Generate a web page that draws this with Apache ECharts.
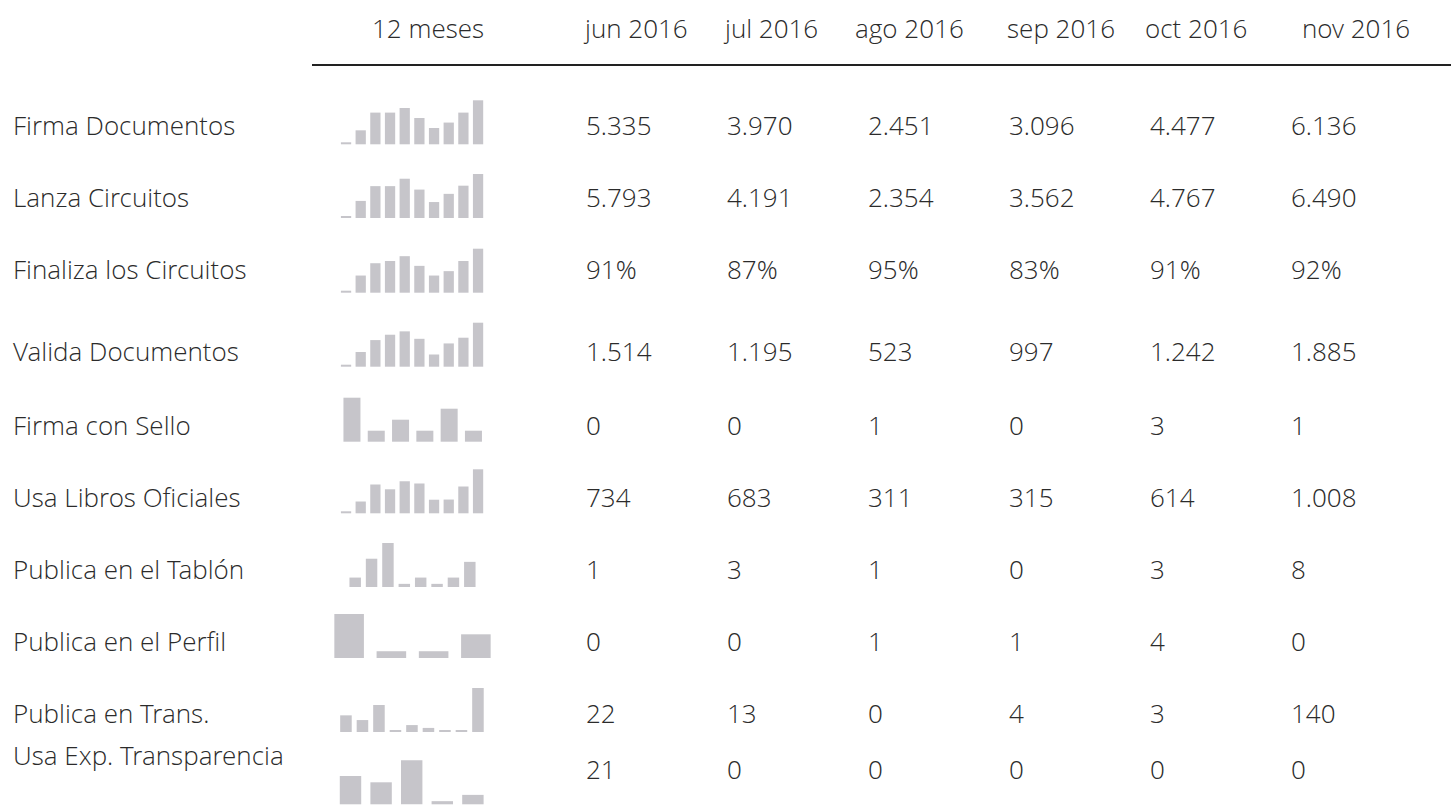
<!DOCTYPE html>
<html lang="es">
<head>
<meta charset="UTF-8">
<title>Actividad 12 meses</title>
<script src="https://cdn.jsdelivr.net/npm/echarts@6/dist/echarts.min.js"></script>
<style>
  html, body { margin: 0; padding: 0; background: #fff; }
  #main { width: 1451px; height: 808px; }
</style>
</head>
<body>
<div id="main"></div>
<script>
// row names
var rowNames = ['Firma Documentos', 'Lanza Circuitos', 'Finaliza los Circuitos', 'Valida Documentos',
  'Firma con Sello', 'Usa Libros Oficiales', 'Publica en el Tablón', 'Publica en el Perfil',
  'Publica en Trans.', 'Usa Exp. Transparencia'];

var headLabels = ['12 meses', 'jun 2016', 'jul 2016', 'ago 2016', 'sep 2016', 'oct 2016', 'nov 2016'];

// table values by month (row order as rowNames)
var jun = [5335, 5793, 91, 1514, 0, 734, 1, 0, 22, 21];
var jul = [3970, 4191, 87, 1195, 0, 683, 3, 0, 13, 0];
var ago = [2451, 2354, 95, 523, 1, 311, 1, 1, 0, 0];
var sep = [3096, 3562, 83, 997, 0, 315, 0, 1, 4, 0];
var oct = [4477, 4767, 91, 1242, 3, 614, 3, 4, 3, 0];
var nov = [6136, 6490, 92, 1885, 1, 1008, 8, 0, 140, 0];
var percentRow = 2;

// sparkline values (12 meses, months with activity)
var spFirma = [200, 1950, 4420, 4420, 5060, 3670, 2270, 3030, 4420, 6136];
var spLanza = [250, 2520, 4700, 4700, 5793, 4191, 2354, 3562, 4767, 6490];
var spFinaliza = [4, 39, 67, 72, 83, 61, 39, 49, 72, 100];
var spValida = [60, 630, 1140, 1370, 1514, 1195, 523, 997, 1242, 1885];
var spSello = [4, 1, 2, 1, 3, 1];
var spLibros = [40, 270, 660, 550, 734, 683, 311, 315, 614, 1008];
var spTablon = [3, 9, 14, 1, 3, 1, 3, 8];
var spPerfil = [13, 2, 2, 7];
var spTrans = [53, 38, 86, 5, 22, 13, 4, 3, 140];
var spExp = [9, 7, 14, 1, 3];

var sparks = [spFirma, spLanza, spFinaliza, spValida, spSello, spLibros, spTablon, spPerfil, spTrans, spExp];
var months = [jun, jul, ago, sep, oct, nov];

// layout
var labelY = [125, 197, 269, 351, 425, 497, 569, 641, 713, 755];
var valueY = [125, 197, 269, 351, 425, 497, 569, 641, 713, 769];
var sparkBase = [144.3, 218, 292.7, 366.7, 441.7, 513.3, 587, 658, 732, 804.3];
var sparkLeft = [338.7, 338.7, 338.7, 338.7, 339.8, 338.7, 347, 328, 337.7, 335.2];
var sparkWidth = [146.7, 146.7, 146.7, 146.7, 145.8, 146.7, 131, 169, 148.5, 153];
var sparkH = 44;
var headX = [372, 585, 725, 855, 1007, 1145, 1302];
var colX = [586, 727, 868, 1009, 1150, 1291];

var textColor = '#2b2b2b';
var fontFam = '"Open Sans Light", "Open Sans", "Noto Sans", sans-serif';

function fmt(v, row) {
  if (row === percentRow) return v + '%';
  return String(v).replace(/\B(?=(\d{3})+(?!\d))/g, '.');
}

function txt(x, y, s) {
  return {
    type: 'text', x: x, y: y, silent: true,
    style: { text: s, fill: textColor, font: '300 26px ' + fontFam, textAlign: 'left', textVerticalAlign: 'middle' }
  };
}

var grids = [], xAxes = [], yAxes = [], series = [], graphics = [];

sparks.forEach(function (d, i) {
  grids.push({ left: sparkLeft[i], top: sparkBase[i] - sparkH, width: sparkWidth[i], height: sparkH });
  xAxes.push({ type: 'category', gridIndex: i, data: d.map(function (v, k) { return k; }), show: false });
  yAxes.push({ type: 'value', gridIndex: i, min: 0, max: 'dataMax', show: false });
  series.push({
    type: 'bar', xAxisIndex: i, yAxisIndex: i, data: d,
    barCategoryGap: '30%', barMinHeight: 2, silent: true,
    itemStyle: { color: '#c6c5ca' }
  });
});

headLabels.forEach(function (h, k) {
  graphics.push(txt(headX[k], 28, h));
});
graphics.push({
  type: 'line', silent: true,
  shape: { x1: 312, y1: 65, x2: 1451, y2: 65 },
  style: { stroke: '#222', lineWidth: 2 }
});

rowNames.forEach(function (n, i) {
  graphics.push(txt(13, labelY[i], n));
  months.forEach(function (m, k) {
    graphics.push(txt(colX[k], valueY[i], fmt(m[i], i)));
  });
});

var myChart = echarts.init(document.getElementById('main'), null, { renderer: 'svg' });
var option = {
  animation: false,
  grid: grids,
  xAxis: xAxes,
  yAxis: yAxes,
  series: series,
  graphic: graphics
};
myChart.setOption(option);
</script>
</body>
</html>
